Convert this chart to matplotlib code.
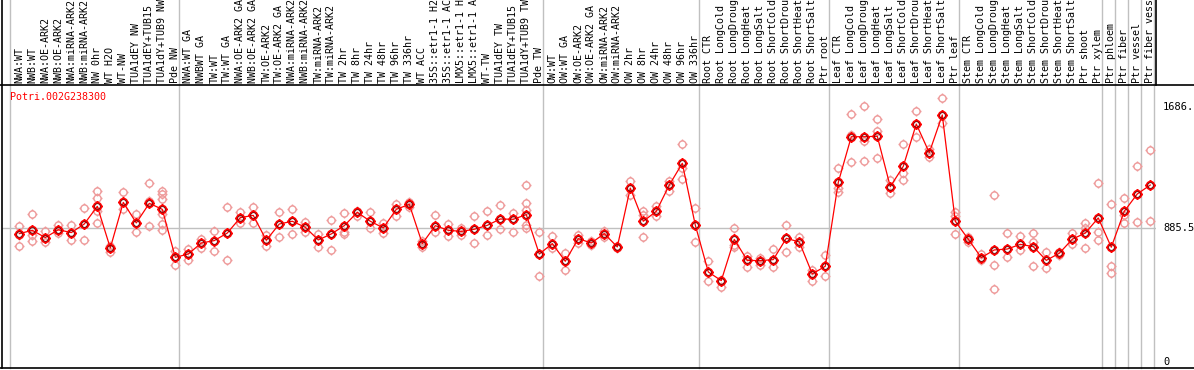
import matplotlib
matplotlib.use("Agg")
import matplotlib.pyplot as plt
from matplotlib.path import Path
from matplotlib.lines import Line2D
from matplotlib.transforms import blended_transform_factory

gene = "Potri.002G238300"

samples = [
    "NWA:WT", "NWB:WT", "NWA:OE-ARK2", "NWB:OE-ARK2", "NWA:miRNA-ARK2", "NWB:miRNA-ARK2",
    "NW 0hr", "WT H2O", "WT-NW", "TUA1dEY NW", "TUA1dEY+TUB15 NW", "TUA1dY+TUB9 NW", "Pde NW",
    "NWA:WT GA", "NWBWT GA", "TW:WT", "TW:WT GA", "NWA:OE-ARK2 GA", "NWB:OE-ARK2 GA",
    "TW:OE-ARK2", "TW:OE-ARK2 GA", "NWA:miRNA-ARK2 GA", "NWB:miRNA-ARK2 GA", "TW:miRNA-ARK2",
    "TW:miRNA-ARK2 GA", "TW 2hr", "TW 8hr", "TW 24hr", "TW 48hr", "TW 96hr", "TW 336hr",
    "WT ACC", "35S::etr1-1 H2O", "35S::etr1-1 ACC", "LMX5::etr1-1 H2O", "LMX5::etr1-1 ACC",
    "WT-TW", "TUA1dEY TW", "TUA1dEY+TUB15 TW", "TUA1dY+TUB9 TW", "Pde TW",
    "OW:WT", "OW:WT GA", "OW:OE-ARK2", "OW:OE-ARK2 GA", "OW:miRNA-ARK2", "OW:miRNA-ARK2 GA",
    "OW 2hr", "OW 8hr", "OW 24hr", "OW 48hr", "OW 96hr", "OW 336hr",
    "Root CTR", "Root LongCold", "Root LongDrought", "Root LongHeat", "Root LongSalt",
    "Root ShortCold", "Root ShortDrought", "Root ShortHeat", "Root ShortSalt", "Ptr root",
    "Leaf CTR", "Leaf LongCold", "Leaf LongDrought", "Leaf LongHeat", "Leaf LongSalt",
    "Leaf ShortCold", "Leaf ShortDrought", "Leaf ShortHeat", "Leaf ShortSalt", "Ptr leaf",
    "Stem CTR", "Stem LongCold", "Stem LongDrought", "Stem LongHeat", "Stem LongSalt",
    "Stem ShortCold", "Stem ShortDrought", "Stem ShortHeat", "Stem ShortSalt", "Ptr shoot",
    "Ptr xylem", "Ptr phloem", "Ptr fiber", "Ptr vessel", "Ptr fiber vessel",
]

# mean expression per sample
means = [850, 872, 824, 876, 857, 914, 1031, 755, 1057, 921, 1051, 1011, 693,
         715, 788, 804, 854, 956, 971, 806, 914, 932, 892, 808, 848, 903, 991, 932,
         888, 1011, 1044, 784, 903, 872, 865, 879, 905, 947, 945, 976, 715,
         784, 667, 817, 788, 850, 762, 1152, 932, 998, 1172, 1316, 907,
         596, 539, 812, 673, 671, 678, 819, 795, 583, 634,
         1190, 1492, 1492, 1495, 1161, 1296, 1576, 1386, 1636, 932,
         813, 691, 742, 748, 779, 764, 673, 720, 813, 854, 954,
         760, 998, 1113, 1172]

# individual replicates
reps = [
    [903, 843, 766], [980, 843, 804], [865, 824, 793], [910, 876, 854], [907, 857, 810],
    [1018, 914, 810], [1133, 1084, 998, 921], [766, 755, 729], [1124, 1057, 1016],
    [980, 921, 859], [1183, 1064, 899], [1135, 1113, 1082, 980, 914, 872], [733, 693, 645],
    [748, 715, 678], [817, 788, 755], [865, 804, 737], [1024, 854, 673], [994, 956, 918],
    [1024, 971, 921], [843, 806, 770], [991, 914, 828], [1013, 932, 848], [925, 892, 861],
    [848, 808, 760], [938, 848, 744], [985, 859, 850], [998, 991, 969], [991, 932, 888],
    [923, 888, 854], [1046, 1011, 969], [1062, 1044, 1027], [799, 784, 764], [974, 903, 859],
    [912, 872, 832], [885, 865, 843], [965, 879, 788], [998, 905, 843], [1040, 947, 879],
    [985, 945, 863], [1170, 1053, 1009, 910, 888], [859, 715, 567],
    [832, 784, 755], [722, 667, 612], [843, 817, 788], [799, 788, 773], [865, 850, 828],
    [770, 762, 755], [1197, 1152, 1104], [998, 976, 826], [1031, 998, 965],
    [1201, 1172, 1130], [1444, 1285, 1214], [1020, 907, 795],
    [667, 596, 534], [545, 539, 497], [888, 777, 760], [704, 673, 629], [689, 671, 640],
    [746, 678, 629], [907, 819, 729], [826, 795, 760], [612, 583, 534], [711, 634, 567],
    [1285, 1152, 1124], [1643, 1506, 1325], [1693, 1461, 1329], [1607, 1532, 1351],
    [1205, 1161, 1117], [1442, 1254, 1205], [1660, 1576, 1488], [1409, 1386, 1360],
    [1746, 1636, 1581], [996, 967, 848],
    [830, 813, 797], [715, 691, 676], [1104, 643, 481], [852, 748, 698], [835, 779, 742],
    [852, 797, 636], [726, 673, 620], [731, 720, 709], [857, 813, 782], [923, 885, 755],
    [1183, 859, 808], [1044, 636, 592], [1084, 974, 923], [1296, 1113, 925],
    [1404, 1172, 934],
]

# index of first sample in each group (separator lines)
group_starts = [0, 13, 41, 53, 63, 73, 84, 85, 86, 87, 88]
ref_value = 885.5
max_value = 1686

W, H = 1194, 370
fig = plt.figure(figsize=(W / 100, H / 100), dpi=100)
ax = fig.add_axes([2 / W, 2 / H, 1154 / W, 283 / H])
ax.set_xlim(-1.331, 87.44)
ax.set_ylim(-40, 1834.6)
ax.axis("off")

mono = "DejaVu Sans Mono"
fs = 7.2

# circle marker with four little ticks
parts = [Path.unit_circle()]
for (a, b) in [((0, 1), (0, 1.4)), ((0, -1), (0, -1.4)), ((1, 0), (1.4, 0)), ((-1, 0), (-1.4, 0))]:
    parts.append(Path([a, b], [Path.MOVETO, Path.LINETO]))
tick_circle = Path.make_compound_path(*parts)

ax.axhline(ref_value, color="#c0c0c0", lw=1.0, zorder=1)
top = 1 + 85 / 283
for g in group_starts:
    ax.axvline(g - 0.68, ymin=0, ymax=top, color="#c0c0c0", lw=1.0, clip_on=False, zorder=1)

x = list(range(len(samples)))
for i, r in enumerate(reps):
    ax.plot([i] * len(r), r, linestyle="none", marker=tick_circle, markersize=7.2,
            markerfacecolor="none", markeredgecolor="#ee9a9a", markeredgewidth=1.0, zorder=2)

ax.plot(x, means, color="red", lw=0.9, zorder=3)
ax.plot(x, means, linestyle="none", marker=tick_circle, markersize=7.6,
        markerfacecolor="none", markeredgecolor="red", markeredgewidth=1.4, zorder=4)
ax.plot(x, means, linestyle="none", marker="o", markersize=4.0,
        markerfacecolor="none", markeredgecolor="#500000", markeredgewidth=0.5, zorder=5)

# sample labels in the header
for i, s in enumerate(samples):
    ax.text(i, 1 + 2 / 283, s, transform=ax.get_xaxis_transform(), rotation=90,
            ha="center", va="bottom", fontsize=fs, family=mono, color="black", clip_on=False)

ax.text(-0.7, 1 - 12 / 283, gene, transform=ax.get_xaxis_transform(), ha="left", va="center",
        fontsize=fs, family=mono, color="red")

# value labels on the right
right_tr = blended_transform_factory(fig.transFigure, ax.transData)
for v, lab in [(max_value, "1686."), (ref_value, "885.5"), (0, "0")]:
    ax.text(1163 / W, v, lab, transform=right_tr, ha="left", va="center",
            fontsize=fs + 0.3, family=mono, color="black", clip_on=False)

# frame
def hline(y, x0=0, x1=W, c="black"):
    fig.add_artist(Line2D([x0 / W, x1 / W], [1 - y / H, 1 - y / H], color=c, lw=1.2,
                          transform=fig.transFigure))

def vline(xp, y0, y1, c="black"):
    fig.add_artist(Line2D([xp / W, xp / W], [1 - y0 / H, 1 - y1 / H], color=c, lw=1.2,
                          transform=fig.transFigure))

hline(85)
hline(368)
vline(2, 0, 368)
vline(1155.5, 0, 85)

fig.savefig("out.png", dpi=100)
